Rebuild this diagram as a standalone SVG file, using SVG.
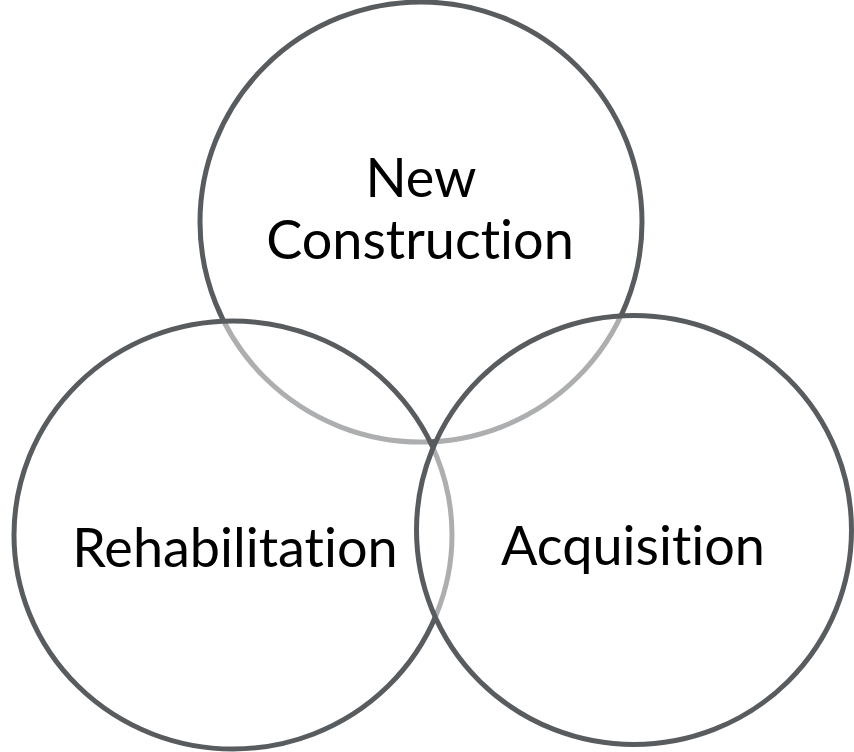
<svg xmlns="http://www.w3.org/2000/svg" width="854" height="752" viewBox="0 0 854 752">
  <style>
    .ring { fill: #ffffff; fill-opacity: 0.5; stroke: #595c5f; stroke-width: 5; }
    .label { font-family: Lato, "Open Sans", "Liberation Sans", sans-serif; font-size: 54px; fill: #000000; text-anchor: middle; font-variant-ligatures: none; font-feature-settings: "liga" 0, "clig" 0; }
  </style>
  <rect width="854" height="752" fill="#ffffff"/>
  <!-- circles drawn in order so the later translucent fills soften earlier outlines -->
  <g id="new-construction">
    <ellipse class="ring" cx="421" cy="222" rx="221" ry="220"/>
    <text class="label" x="421" y="197">New</text>
    <text class="label" x="420" y="259">Construction</text>
  </g>
  <g id="rehabilitation">
    <ellipse class="ring" cx="233" cy="535" rx="219" ry="214"/>
  </g>
  <g id="acquisition">
    <ellipse class="ring" cx="634" cy="530" rx="217.5" ry="214.5"/>
  </g>
  <g id="labels">
    <text class="label" x="235" y="567">Rehabilitation</text>
    <text class="label" x="633" y="565">Acquisition</text>
  </g>
</svg>
